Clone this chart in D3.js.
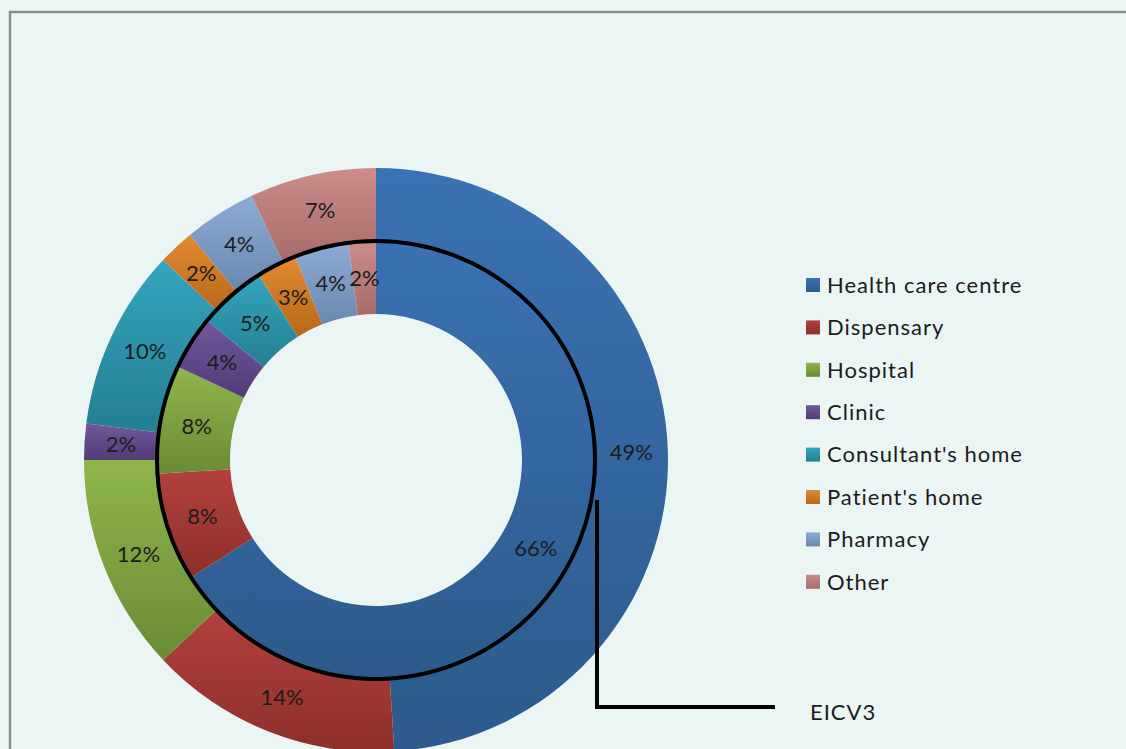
<!DOCTYPE html>
<html>
<head>
<meta charset="utf-8">
<script src="https://cdn.jsdelivr.net/npm/d3@7"></script>
<style>
  html, body { margin: 0; padding: 0; background: #ebf5f3; }
  svg { display: block; font-family: Lato, "Open Sans", sans-serif; }
</style>
</head>
<body>
<div id="main"></div>
<script>
const categories = ["Health care centre", "Dispensary", "Hospital", "Clinic",
  "Consultant's home", "Patient's home", "Pharmacy", "Other"];
const innerValues = [66, 8, 8, 4, 5, 3, 4, 2];
const outerValues = [49, 14, 12, 2, 10, 2, 4, 7];
const seriesLabel = "EICV3";

const colorsTop = ["#3b72b3", "#b3413d", "#8fb54b", "#71589a", "#34a5bd", "#e38b2f", "#8eabd6", "#cc8c8a"];
const colorsBottom = ["#2c5a8c", "#8d2f2c", "#698c35", "#533b79", "#257e92", "#b7681c", "#6a87ae", "#a66b69"];

const width = 1126;
const height = 749;
const cx = 376, cy = 460;
const rHole = 146, rMid = 219, rOut = 292;

const svg = d3.select("#main").append("svg").attr("width", width).attr("height", height);

svg.append("rect").attr("width", width).attr("height", height).attr("fill", "#ebf5f3");
// chart area border
svg.append("path")
  .attr("d", `M10,${height + 5}V12H${width + 5}`)
  .attr("fill", "none").attr("stroke", "#8a8f8e").attr("stroke-width", 2.5);

const defs = svg.append("defs");
categories.forEach((c, i) => {
  const g = defs.append("linearGradient").attr("id", "grad" + i)
    .attr("x1", 0).attr("y1", 0).attr("x2", 0).attr("y2", 1);
  g.append("stop").attr("offset", "0%").attr("stop-color", colorsTop[i]);
  g.append("stop").attr("offset", "100%").attr("stop-color", colorsBottom[i]);
});

const pie = d3.pie().sort(null).value(d => d);
const chart = svg.append("g").attr("transform", `translate(${cx},${cy})`);

function ring(values, r0, r1) {
  const arc = d3.arc().innerRadius(r0).outerRadius(r1);
  const g = chart.append("g");
  const arcs = pie(values);
  g.selectAll("path").data(arcs).enter().append("path")
    .attr("d", arc)
    .attr("fill", (d, i) => `url(#grad${i})`);
  g.selectAll("text").data(arcs).enter().append("text")
    .attr("transform", d => `translate(${arc.centroid(d)})`)
    .attr("text-anchor", "middle")
    .attr("dy", "0.35em")
    .attr("font-size", 22)
    .attr("fill", "#1c1c1c")
    .text(d => d.data + "%");
}

ring(outerValues, rMid, rOut);
ring(innerValues, rHole, rMid);

// outline of inner series
chart.append("circle").attr("r", rMid).attr("fill", "none")
  .attr("stroke", "#000").attr("stroke-width", 4);

// series name callout
svg.append("path")
  .attr("d", `M597,500V707H775`)
  .attr("fill", "none").attr("stroke", "#000").attr("stroke-width", 4);
svg.append("text").attr("x", 810).attr("y", 720)
  .attr("font-size", 22).attr("letter-spacing", 1).attr("fill", "#1c1c1c").text(seriesLabel);

// legend
const legend = svg.append("g").attr("transform", "translate(806,285)");
const item = legend.selectAll("g").data(categories).enter().append("g")
  .attr("transform", (d, i) => `translate(0,${i * 42.4})`);
item.append("rect").attr("x", 0).attr("y", -7).attr("width", 14).attr("height", 14)
  .attr("fill", (d, i) => `url(#grad${i})`);
item.append("text").attr("x", 21).attr("dy", "0.35em")
  .attr("font-size", 22).attr("letter-spacing", 1).attr("fill", "#1c1c1c").text(d => d);
</script>
</body>
</html>
